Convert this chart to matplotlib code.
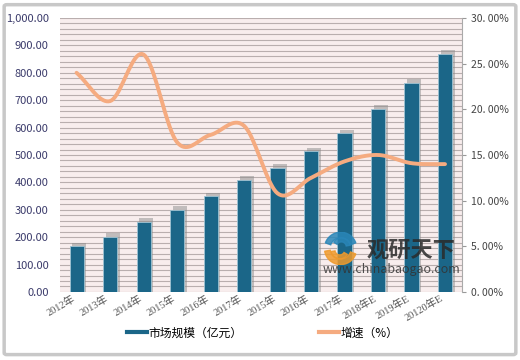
import numpy as np
import matplotlib
matplotlib.use('Agg')
import matplotlib.pyplot as plt
from matplotlib.patches import FancyBboxPatch, Wedge
from matplotlib.lines import Line2D
from matplotlib.ticker import MultipleLocator, FuncFormatter

plt.rcParams['font.family'] = ['Noto Sans CJK SC', 'DejaVu Sans']

years = ['2012年', '2013年', '2014年', '2015年', '2016年', '2017年',
         '2015年', '2016年', '2017年', '2018年E', '2019年E', '20120年E']
market = [166, 202, 255, 299, 349, 408, 452, 513, 579, 667, 763, 870]
growth = [24.0, 20.9, 26.0, 16.4, 17.2, 18.2, 10.8, 12.5, 14.3, 15.0, 14.1, 14.0]

bar_color = '#1b6688'
line_color = '#f5ab80'


def smooth(x, y, n=20):
    # catmull-rom curve through the points, like excel's smoothed line
    x = np.asarray(x, float)
    y = np.asarray(y, float)
    px = np.concatenate([[2 * x[0] - x[1]], x, [2 * x[-1] - x[-2]]])
    py = np.concatenate([[2 * y[0] - y[1]], y, [2 * y[-1] - y[-2]]])
    xs, ys = [], []
    t = np.linspace(0, 1, n, endpoint=False)
    for i in range(1, len(px) - 2):
        for p, out in ((px, xs), (py, ys)):
            p0, p1, p2, p3 = p[i - 1], p[i], p[i + 1], p[i + 2]
            out.extend(0.5 * (2 * p1 + (-p0 + p2) * t
                              + (2 * p0 - 5 * p1 + 4 * p2 - p3) * t ** 2
                              + (-p0 + 3 * p1 - 3 * p2 + p3) * t ** 3))
    xs.append(x[-1])
    ys.append(y[-1])
    return np.array(xs), np.array(ys)


fig = plt.figure(figsize=(5.2, 3.6), dpi=100)
fig.patch.set_facecolor('white')
fig.patches.append(FancyBboxPatch((0.008, 0.015), 0.984, 0.972,
                                  boxstyle='round,pad=0,rounding_size=0.005',
                                  transform=fig.transFigure, fill=False,
                                  edgecolor='#c8c8c8', linewidth=2.5))

ax = fig.add_axes([0.115, 0.189, 0.773, 0.761])
ax.set_facecolor('#f8eded')
x = np.arange(len(years))

ax.yaxis.set_minor_locator(MultipleLocator(20))
ax.yaxis.set_major_locator(MultipleLocator(100))
ax.grid(which='both', axis='y', color='#b9aeae', linewidth=0.8)
ax.set_axisbelow(True)

# shadow behind the bars
ax.bar(x + 0.08, np.array(market) + 14, width=0.42, color='#8c8c8c', alpha=0.5,
       zorder=2)
ax.bar(x, market, width=0.42, color=bar_color, edgecolor='#9fc3d3',
       linewidth=0.6, zorder=3)

ax.set_xlim(-0.5, len(years) - 0.5)
ax.set_ylim(0, 1000)
ax.set_xticks(x)
ax.set_xticklabels(years, rotation=30, ha='right', fontsize=7.5,
                   color='#555555', family=['Liberation Serif', 'Noto Sans CJK SC'])
ax.yaxis.set_major_formatter(FuncFormatter(lambda v, p: f'{v:,.2f}'))
ax.tick_params(axis='y', which='both', length=0, labelsize=8,
               labelcolor='#3b3b6b', pad=8)
ax.tick_params(axis='x', length=0, pad=1)
for s in ax.spines.values():
    s.set_visible(False)

ax2 = ax.twinx()
sx, sy = smooth(x, growth)
ax2.plot(sx, sy, color=line_color, linewidth=2.8, solid_capstyle='round', zorder=4)
ax2.set_ylim(0, 30)
ax2.yaxis.set_major_locator(MultipleLocator(5))
ax2.yaxis.set_major_formatter(FuncFormatter(lambda v, p: f'{v:.2f}%'.replace('.', '. ')))
ax2.tick_params(axis='y', length=3, color='#999999', labelsize=7.5,
                labelcolor='#444444', pad=4)
for k, s in ax2.spines.items():
    s.set_visible(k == 'right')
ax2.spines['right'].set_color('#aaaaaa')

# watermark
fig.text(0.79, 0.305, '观研天下', fontsize=16, fontweight='bold', color='#2a2a2a',
         alpha=0.85, ha='center', va='center')
fig.text(0.752, 0.25, 'www.chinabaogao.com', fontsize=9, color='#333333',
         alpha=0.85, ha='center', va='center')
logo = fig.add_axes([0.615, 0.265, 0.08, 0.09])
logo.set_aspect('equal')
logo.axis('off')
logo.set_xlim(-1, 1)
logo.set_ylim(-1, 1)
logo.add_patch(Wedge((0, 0), 1.0, 20, 160, width=0.35, color='#2a86b8', alpha=0.85))
logo.add_patch(Wedge((0.05, 0.1), 0.55, 10, 150, width=0.25, color='#2a86b8', alpha=0.85))
logo.add_patch(Wedge((0, 0), 1.0, 190, 340, width=0.35, color='#ef9a2c', alpha=0.85))
logo.add_patch(Wedge((-0.05, -0.1), 0.55, 190, 330, width=0.25, color='#ef9a2c', alpha=0.85))

handles = [Line2D([], [], color=bar_color, linewidth=3),
           Line2D([], [], color=line_color, linewidth=3)]
fig.legend(handles, ['市场规模（亿元）', '增速（%）'], loc='center',
           bbox_to_anchor=(0.505, 0.075), ncol=2, frameon=False, fontsize=8.5,
           handlelength=1.7, handletextpad=0.1, columnspacing=6.5)

fig.savefig('out.png', dpi=100)
